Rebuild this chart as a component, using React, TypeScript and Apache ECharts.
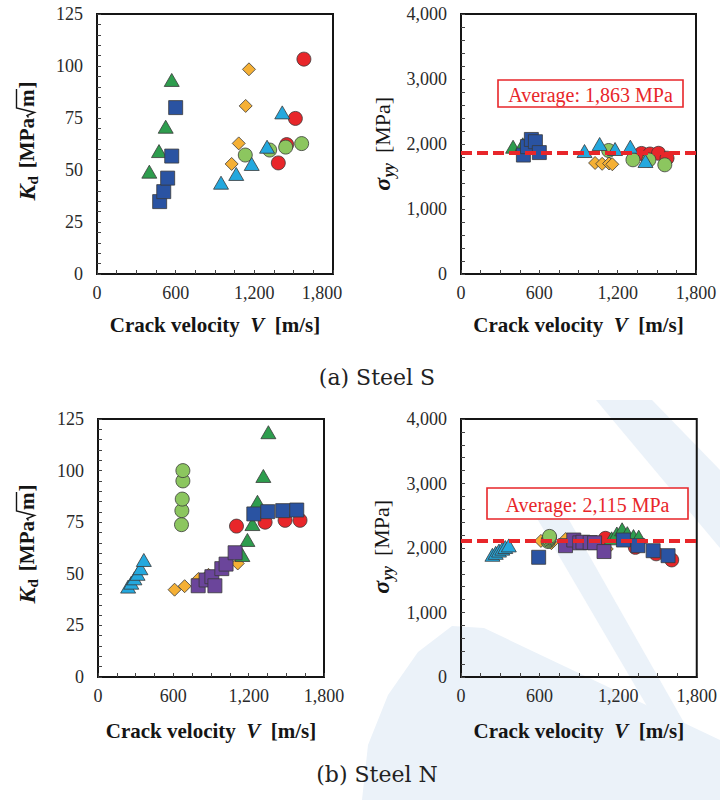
import React, { useEffect, useRef } from "react";
import * as echarts from "echarts";

type Pt = [number, number];

// ---- Steel S : dynamic fracture toughness K_d [MPa√m] vs crack velocity V [m/s]
const sKdBlueSquare: Pt[] = [[478, 34.8], [509, 39.6], [539, 46.1], [570, 56.7], [600, 80]];
const sKdGreenTriangle: Pt[] = [[399, 49.2], [473, 59.1], [524, 70.8], [570, 93.3]];
const sKdOrangeDiamond: Pt[] = [[1027, 52.9], [1081, 62.8], [1134, 80.8], [1159, 98.4]];
const sKdRedCircle: Pt[] = [[1383, 53.4], [1447, 62.2], [1513, 74.8], [1578, 103.3]];
const sKdLimeCircle: Pt[] = [[1131, 57.2], [1317, 59.6], [1439, 61], [1561, 62.7]];
const sKdCyanTriangle: Pt[] = [[946, 43.9], [1062, 48.1], [1180, 52.9], [1297, 61.2], [1413, 77.7]];

// ---- Steel S : crack-tip stress σyy [MPa] vs crack velocity V [m/s]
const sSigBlueSquare: Pt[] = [[478, 1830], [509, 1960], [539, 2070], [570, 2035], [600, 1868]];
const sSigGreenTriangle: Pt[] = [[399, 1958], [473, 1995], [524, 2005], [570, 1985]];
const sSigOrangeDiamond: Pt[] = [[1027, 1708], [1081, 1695], [1134, 1700], [1159, 1688]];
const sSigRedCircle: Pt[] = [[1383, 1855], [1447, 1846], [1513, 1857], [1578, 1782]];
const sSigLimeCircle: Pt[] = [[1131, 1900], [1317, 1757], [1439, 1755], [1561, 1680]];
const sSigCyanTriangle: Pt[] = [[946, 1892], [1062, 2000], [1180, 1923], [1297, 1959], [1413, 1738]];
const sAverage = 1863;

// ---- Steel N : K_d vs V
const nKdCyanTriangle: Pt[] = [[240, 43.8], [265, 45.7], [290, 47.8], [315, 50], [338, 52.7], [365, 56.7]];
const nKdOrangeDiamond: Pt[] = [[610, 42.3], [690, 44], [800, 47.5], [880, 49.5], [1113, 55]];
const nKdLimeCircle: Pt[] = [[665, 73.8], [668, 80.6], [671, 86.2], [676, 95], [676, 100]];
const nKdPurpleSquare: Pt[] = [[798, 44.2], [861, 47], [907, 48.6], [931, 44.2], [986, 52.5], [1020, 54.7], [1092, 60.2]];
const nKdGreenTriangle: Pt[] = [[1150, 59.1], [1190, 66.4], [1230, 74.1], [1270, 84.9], [1317, 97.4], [1357, 118.6]];
const nKdRedCircle: Pt[] = [[1103, 73.1], [1331, 75], [1490, 75.9], [1609, 75.9]];
const nKdBlueSquare: Pt[] = [[1241, 79], [1352, 80.1], [1471, 80.6], [1583, 80.9]];

// ---- Steel N : σyy vs V
const nSigCyanTriangle: Pt[] = [[240, 1895], [265, 1925], [290, 1960], [315, 1990], [338, 2015], [365, 2040]];
const nSigOrangeDiamond: Pt[] = [[610, 2110], [690, 2075], [800, 2140], [880, 2090], [1113, 1985]];
const nSigLimeCircle: Pt[] = [[665, 2100], [668, 2120], [671, 2140], [676, 2160], [676, 2180]];
const nSigPurpleSquare: Pt[] = [[798, 2036], [861, 2124], [907, 2080], [931, 2090], [986, 2085], [1020, 2080], [1092, 1945]];
const nSigGreenTriangle: Pt[] = [[1150, 2150], [1190, 2225], [1230, 2290], [1270, 2230], [1317, 2185], [1357, 2175]];
const nSigRedCircle: Pt[] = [[1103, 2150], [1331, 2010], [1490, 1910], [1609, 1815]];
const nSigBlueSquare: Pt[] = [[593, 1856], [1240, 2124], [1351, 2036], [1467, 1958], [1581, 1881]];
const nAverage = 2115;

// ---- axes
const velocityTicks = { min: 0, max: 1800, interval: 600 };
const kdTicks = { min: 0, max: 125, interval: 25 };
const sigmaTicks = { min: 0, max: 4000, interval: 1000 };
const captions = ["(a) Steel S", "(b) Steel N"];

const C = {
  blue: "#2a53a2",
  green: "#2e9d4e",
  orange: "#f5b035",
  red: "#e8262a",
  lime: "#8cc65f",
  cyan: "#24a8de",
  purple: "#6b459b",
  ink: "#151515",
};
const SERIF = "Liberation Serif, serif";
const fmt = (v: number) => v.toLocaleString("en-US");

function textWidth(text: string, font: string): number {
  const ctx = document.createElement("canvas").getContext("2d");
  if (!ctx) return text.length * 10;
  ctx.font = font;
  return ctx.measureText(text).width;
}

const grids = [
  { left: 97, top: 14, width: 236, height: 260 },
  { left: 461, top: 14, width: 235, height: 260 },
  { left: 98, top: 419, width: 226, height: 258 },
  { left: 461, top: 419, width: 237, height: 258 },
];

function marker(kind: string, color: string, data: Pt[], idx: number) {
  const shapes: Record<string, { symbol: string; size: number | number[] }> = {
    square: { symbol: "rect", size: 14 },
    circle: { symbol: "circle", size: 14 },
    triangle: { symbol: "triangle", size: [15, 13] },
    diamond: { symbol: "diamond", size: 13 },
  };
  const s = shapes[kind];
  return {
    type: "scatter",
    xAxisIndex: idx,
    yAxisIndex: idx,
    data,
    symbol: s.symbol,
    symbolSize: s.size,
    silent: true,
    itemStyle: { color, borderColor: "#3a3a3a", borderWidth: 0.8, opacity: 1 },
  };
}

function averageLine(value: number, idx: number) {
  return {
    type: "scatter",
    xAxisIndex: idx,
    yAxisIndex: idx,
    data: [],
    silent: true,
    markLine: {
      silent: true,
      symbol: ["none", "none"],
      label: { show: false },
      lineStyle: { color: C.red, width: 4, type: [11, 5] },
      data: [{ yAxis: value }],
    },
  };
}

function xAxisFor(idx: number) {
  const shiftLast = idx === 0;
  return {
    type: "value",
    gridIndex: idx,
    ...velocityTicks,
    name: "{b|Crack velocity  }{i|V}{b|  [m/s]}",
    nameLocation: "middle",
    nameGap: idx < 2 ? 40 : 43,
    nameTextStyle: {
      rich: {
        b: { fontFamily: SERIF, fontWeight: "bold", fontSize: 21, color: C.ink },
        i: { fontFamily: SERIF, fontWeight: "bold", fontStyle: "italic", fontSize: 21, color: C.ink },
      },
    },
    axisLine: { show: true, lineStyle: { color: C.ink, width: 2 } },
    axisTick: { show: true, inside: true, length: 4, lineStyle: { color: "#444", width: 1 } },
    minorTick: { show: true, splitNumber: 4, length: 4, lineStyle: { color: "#444", width: 1 } },
    splitLine: { show: false },
    axisLabel: {
      margin: 10,
      fontFamily: SERIF,
      fontSize: 18,
      color: "#2a2a2a",
      formatter: (v: number) => (shiftLast && v === 1800 ? "{s|" + fmt(v) + "}" : fmt(v)),
      rich: { s: { fontFamily: SERIF, fontSize: 18, color: "#2a2a2a", padding: [0, 22, 0, 0] } },
    },
  };
}

function yAxisFor(idx: number) {
  const ticks = idx % 2 === 0 ? kdTicks : sigmaTicks;
  return {
    type: "value",
    gridIndex: idx,
    ...ticks,
    axisLine: { show: true, lineStyle: { color: C.ink, width: 2 } },
    axisTick: { show: true, inside: true, length: 4, lineStyle: { color: "#444", width: 1 } },
    minorTick: { show: true, splitNumber: 5, length: 4, lineStyle: { color: "#444", width: 1 } },
    splitLine: { show: false },
    axisLabel: { margin: 14, fontFamily: SERIF, fontSize: 18, color: "#2a2a2a", formatter: fmt },
  };
}

const txt = (text: string, font: string, px: number, py: number) => ({
  type: "text",
  x: px,
  y: py,
  style: { text, font, fill: C.ink, align: "left", verticalAlign: "middle", textAlign: "left", textVerticalAlign: "middle" },
});

// Rotated "K_d [MPa√m]" label with a drawn radical sign
function kdLabel(cx: number, cy: number) {
  const fMain = `bold 21px ${SERIF}`;
  const fK = `italic bold 24px ${SERIF}`;
  const fSub = `bold 15px ${SERIF}`;
  const wK = textWidth("K", fK);
  const wd = textWidth("d", fSub);
  const wL = textWidth("[MPa", fMain);
  const wm = textWidth("m", fMain);
  const gap = 8;
  const wRad = 11;
  const total = wK + wd + gap + wL + wRad + wm + textWidth("]", fMain) + 1;
  let x = -total / 2;
  const children: any[] = [];
  children.push(txt("K", fK, x, 0));
  x += wK;
  children.push(txt("d", fSub, x, 6));
  x += wd + gap;
  children.push(txt("[MPa", fMain, x, 0));
  x += wL;
  const r0 = x;
  children.push({
    type: "polyline",
    shape: {
      points: [
        [r0 + 0.5, 1.5],
        [r0 + 2.5, 0],
        [r0 + 5.5, 7.5],
        [r0 + 10, -10.5],
        [r0 + wRad + wm + 0.5, -10.5],
      ],
    },
    style: { stroke: C.ink, lineWidth: 1.4, fill: null },
  });
  x += wRad;
  children.push(txt("m", fMain, x, 0));
  x += wm + 1;
  children.push(txt("]", fMain, x, 0));
  return { type: "group", x: cx, y: cy, rotation: Math.PI / 2, children };
}

// Rotated "σ_yy [MPa]" label
function sigmaLabel(cx: number, cy: number) {
  const fS = `italic bold 24px ${SERIF}`;
  const fSub = `italic bold 16px ${SERIF}`;
  const fMain = `22px ${SERIF}`;
  const wS = textWidth("σ", fS);
  const wSub = textWidth("yy", fSub);
  const wMain = textWidth("[MPa]", fMain);
  const gap = 10;
  const total = wS + wSub + gap + wMain;
  let x = -total / 2;
  const children: any[] = [];
  children.push(txt("σ", fS, x, 0));
  x += wS + 0.5;
  children.push(txt("yy", fSub, x, 6));
  x += wSub + gap;
  children.push(txt("[MPa]", fMain, x, 0));
  return { type: "group", x: cx, y: cy, rotation: Math.PI / 2, children };
}

function averageBox(text: string, x: number, y: number, w: number, h: number) {
  return {
    type: "group",
    z: 20,
    children: [
      { type: "rect", shape: { x, y, width: w, height: h }, style: { fill: "#fff", stroke: C.red, lineWidth: 1.6 } },
      {
        type: "text",
        x: x + w / 2,
        y: y + h / 2 + 1,
        style: { text, font: `20px ${SERIF}`, fill: C.red, align: "center", verticalAlign: "middle", textAlign: "center", textVerticalAlign: "middle" },
      },
    ],
  };
}

// pale background sweeps behind the lower-right panel
const washColor = "#ebf2f9";
const wash = [
  [[596, 400], [652, 400], [720, 470], [720, 548]],
  [[528, 503], [556, 497], [720, 786], [720, 800], [702, 800]],
  [[362, 800], [368, 745], [388, 695], [418, 652], [452, 626], [484, 628], [720, 740], [720, 800]],
];

export default function App() {
  const ref = useRef<HTMLDivElement>(null);
  useEffect(() => {
    if (!ref.current) return;
    const chart = echarts.init(ref.current, undefined, { renderer: "svg" });

    const series: any[] = [
      marker("diamond", C.orange, sKdOrangeDiamond, 0),
      marker("circle", C.red, sKdRedCircle, 0),
      marker("circle", C.lime, sKdLimeCircle, 0),
      marker("triangle", C.green, sKdGreenTriangle, 0),
      marker("triangle", C.cyan, sKdCyanTriangle, 0),
      marker("square", C.blue, sKdBlueSquare, 0),

      averageLine(sAverage, 1),
      marker("diamond", C.orange, sSigOrangeDiamond, 1),
      marker("circle", C.red, sSigRedCircle, 1),
      marker("circle", C.lime, sSigLimeCircle, 1),
      marker("triangle", C.green, sSigGreenTriangle, 1),
      marker("triangle", C.cyan, sSigCyanTriangle, 1),
      marker("square", C.blue, sSigBlueSquare, 1),

      marker("diamond", C.orange, nKdOrangeDiamond, 2),
      marker("circle", C.red, nKdRedCircle, 2),
      marker("triangle", C.green, nKdGreenTriangle, 2),
      marker("triangle", C.cyan, nKdCyanTriangle, 2),
      marker("circle", C.lime, nKdLimeCircle, 2),
      marker("square", C.purple, nKdPurpleSquare, 2),
      marker("square", C.blue, nKdBlueSquare, 2),

      averageLine(nAverage, 3),
      marker("diamond", C.orange, nSigOrangeDiamond, 3),
      marker("circle", C.red, nSigRedCircle, 3),
      marker("triangle", C.green, nSigGreenTriangle, 3),
      marker("triangle", C.cyan, nSigCyanTriangle, 3),
      marker("circle", C.lime, nSigLimeCircle, 3),
      marker("square", C.purple, nSigPurpleSquare, 3),
      marker("square", C.blue, nSigBlueSquare, 3),
    ];

    const graphic: any[] = [
      ...wash.map((pts) => ({ type: "polygon", z: -5, silent: true, shape: { points: pts }, style: { fill: washColor } })),
      kdLabel(27, 141),
      kdLabel(27, 544),
      sigmaLabel(382, 144),
      sigmaLabel(381, 547),
      averageBox(`Average: ${fmt(sAverage)} MPa`, 498, 80, 185, 27),
      averageBox(`Average: ${fmt(nAverage)} MPa`, 487, 488, 201, 31),
      ...captions.map((t, i) => ({
        type: "text",
        x: 377,
        y: i === 0 ? 377 : 774,
        style: { text: t, font: "22px DejaVu Serif, serif", fill: "#222", align: "center", verticalAlign: "middle", textAlign: "center", textVerticalAlign: "middle" },
      })),
    ];

    chart.setOption({
      animation: false,
      backgroundColor: "#ffffff",
      grid: grids.map((g) => ({ ...g, show: true, borderColor: C.ink, borderWidth: 2, backgroundColor: "transparent", containLabel: false })),
      xAxis: grids.map((_, i) => xAxisFor(i)),
      yAxis: grids.map((_, i) => yAxisFor(i)),
      series,
      graphic,
    });
    return () => chart.dispose();
  }, []);
  return <div ref={ref} style={{ position: "fixed", left: 0, top: 0, width: 720, height: 800 }} />;
}
